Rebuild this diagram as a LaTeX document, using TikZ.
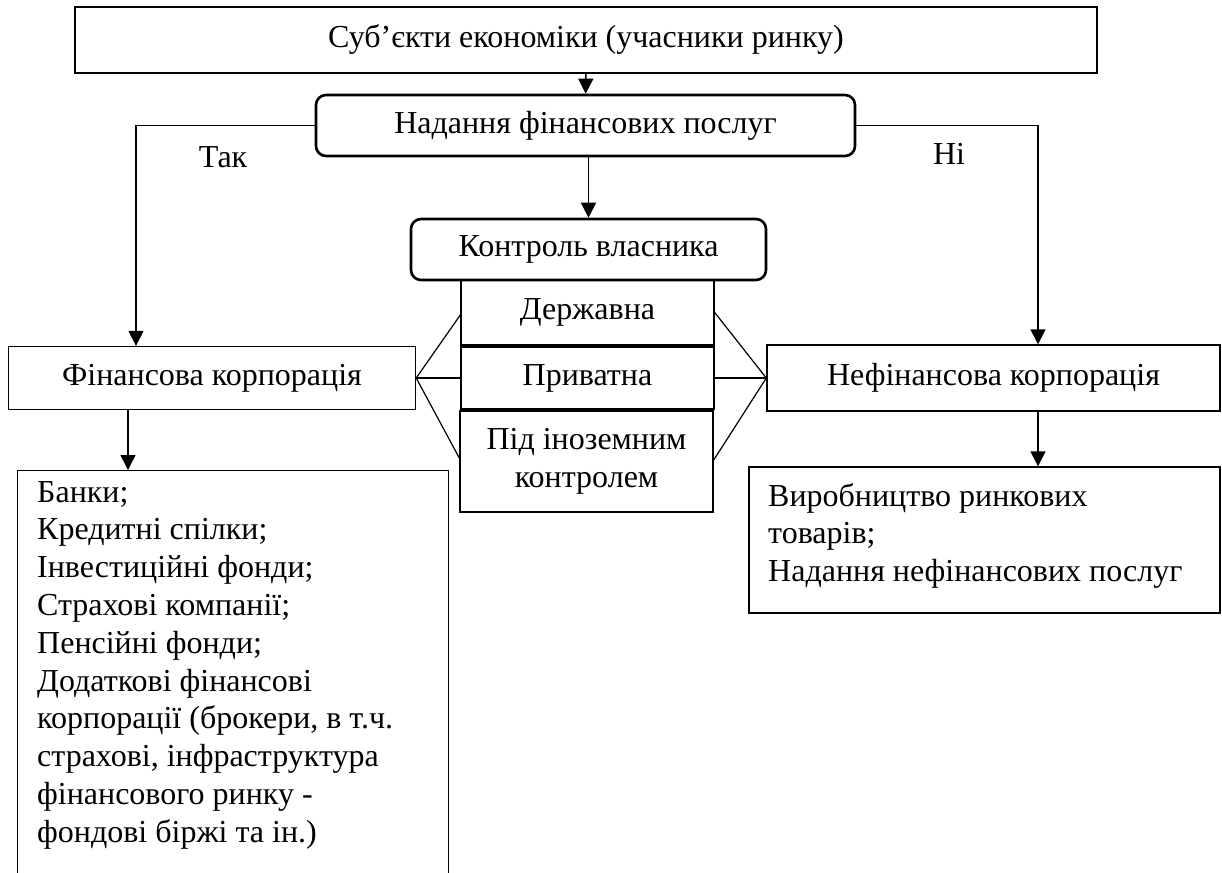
\documentclass[tikz,border=0pt]{standalone}
\usepackage{fontspec}
\setmainfont{Liberation Serif}
\usetikzlibrary{arrows.meta}
\begin{document}
\begin{tikzpicture}[x=1pt,y=-1pt,
  every node/.style={font=\fontsize{32}{37.8}\selectfont},
  box/.style={draw, line width=1.4pt, inner sep=0pt, align=center},
  rbox/.style={box, rounded corners=10pt, line width=2.6pt},
  conn/.style={line width=1.2pt},
  arr/.style={line width=1.5pt, -{Triangle[width=15pt,length=15pt]}},
  listtext/.style={anchor=north west, align=left, inner sep=0pt}
]
\useasboundingbox (0,0) rectangle (1222,872);
\clip (0,0) rectangle (1222,872);

\node[box, minimum width=1022pt, minimum height=66pt] (top) at (586,40) {Суб’єкти економіки (учасники ринку)};
\node[rbox, minimum width=539pt, minimum height=61pt] (nad) at (585.5,125.5) {Надання фінансових послуг};
\node[rbox, minimum width=355pt, minimum height=61pt] (kon) at (588.5,249.5) {Контроль власника};
\node[box, minimum width=253pt, minimum height=65pt] (der) at (587.5,312.5) {Державна};
\node[box, minimum width=253pt, minimum height=62pt] (pry) at (587.5,378) {Приватна};
\node[box, minimum width=253pt, minimum height=101pt] (pid) at (586.5,461.5) {Під іноземним\\контролем};
\node[box, minimum width=407pt, minimum height=63pt] (fin) at (212,378) {Фінансова корпорація};
\node[box, minimum width=453pt, minimum height=66pt] (nef) at (993.5,378) {Нефінансова корпорація};

\node[box, anchor=north west, minimum width=431pt, minimum height=450pt] (finl) at (17,470) {};
\node[listtext] (finlt) at (37,481) {Банки;\\Кредитні спілки;\\Інвестиційні фонди;\\Страхові компанії;\\Пенсійні фонди;\\Додаткові фінансові\\корпорації (брокери, в т.ч.\\страхові, інфраструктура\\фінансового ринку -\\фондові біржі та ін.)};

\node[box, minimum width=471pt, minimum height=146pt] (nefl) at (984.5,540) {};
\node[listtext] (neflt) at (768,483) {Виробництво ринкових\\товарів;\\Надання нефінансових послуг};

\node (tak) at (223,157) {Так};
\node (ni) at (949,154) {Ні};

\coordinate (lx) at (136,0);
\coordinate (rx) at (1038,0);
\coordinate (lxb) at (128,0);

\draw[arr] (top) -- (nad);
\draw[arr] (nad.west) -| (lx |- fin.north);
\draw[arr] (nad.east) -| (rx |- nef.north);
\draw[arr] (nad.south -| kon.north) -- (kon.north);

\draw[conn] (fin.east) -- ([yshift=-2.5pt]der.west);
\draw[conn] (fin.east) -- (pry.west);
\draw[conn] (fin.east) -- ([yshift=3.5pt]pid.west);
\draw[conn] (nef.west) -- (der.east);
\draw[conn] (nef.west) -- (pry.east);
\draw[conn] (nef.west) -- ([yshift=1.5pt]pid.east);

\draw[arr] (lxb |- fin.south) -- (lxb |- finl.north);
\draw[arr] (rx |- nef.south) -- (rx |- nefl.north);
\end{tikzpicture}
\end{document}
